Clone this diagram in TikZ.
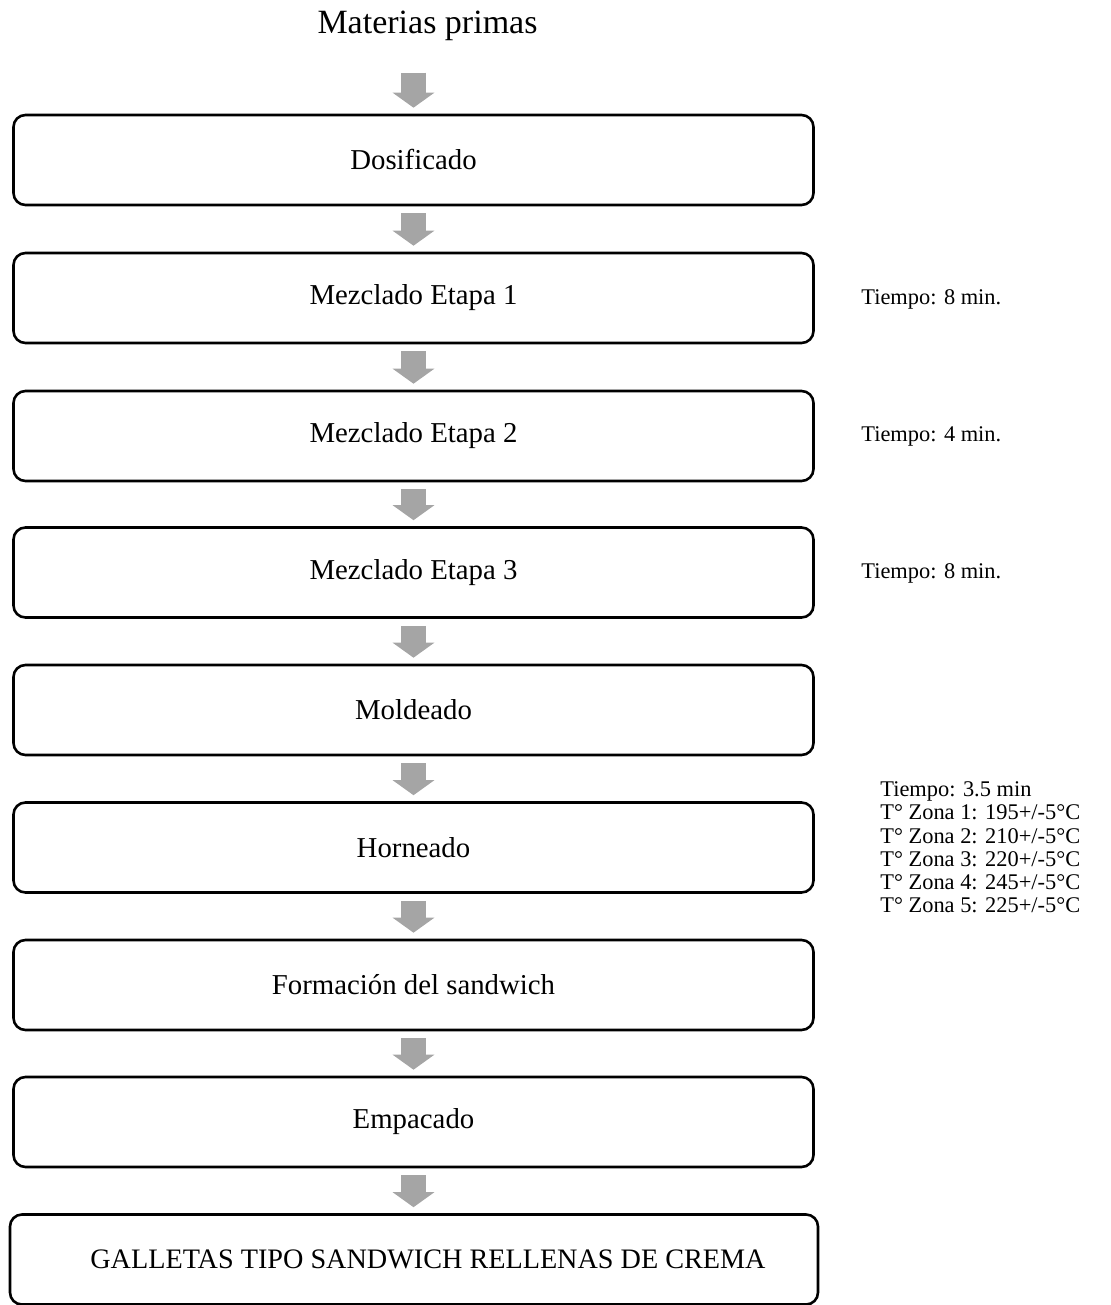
\documentclass[tikz,border=0pt]{standalone}
\usepackage{fontspec}
\setmainfont{Liberation Serif}
\usetikzlibrary{arrows.meta}
\definecolor{gris}{HTML}{A5A5A5}

\begin{document}
\begin{tikzpicture}[x=0.5pt, y=-0.5pt]
        \tikzstyle{caja} = [draw, rounded corners=6pt, line width=1.3pt, minimum width=400pt, minimum height=45pt, align=center, font=\fontsize{14.4}{17}\selectfont]
        \tikzstyle{nota} = [anchor=west, align=left, inner sep=0pt, font=\fontsize{11.2}{11.6}\selectfont]
        \tikzstyle{flecha} = [gris, line width=12.5pt, -{Triangle[width=20.5pt, length=7.5pt]}, shorten <=3.5pt, shorten >=3pt]

        \useasboundingbox (0,0) rectangle (1111,1305);

        \node (mat) [anchor=base, inner sep=0pt, font=\fontsize{17}{20}\selectfont] at (427.5,34) {Materias primas};

        \node (dos) [caja] at (413.5,160) {Dosificado};
        \node (mez1) [caja] at (413.5,298) {Mezclado Etapa 1};
        \node (mez2) [caja] at (413.5,436) {Mezclado Etapa 2};
        \node (mez3) [caja] at (413.5,572.5) {Mezclado Etapa 3};
        \node (mol) [caja] at (413.5,710) {Moldeado};
        \node (hor) [caja] at (413.5,847.5) {Horneado};
        \node (form) [caja] at (413.5,985) {Formación del sandwich};
        \node (emp) [caja] at (413.5,1122) {Empacado};
        \node (gal) [caja, minimum width=404pt, font=\fontsize{14.1}{17}\selectfont] at (414,1259.5) {\hspace*{14pt}GALLETAS TIPO SANDWICH RELLENAS DE CREMA};

        % tiempos y temperaturas
        \node (t1) [nota] at (861,299) {Tiempo: 8 min.};
        \node (t2) [nota] at (861,436) {Tiempo: 4 min.};
        \node (t3) [nota] at (861,573) {Tiempo: 8 min.};
        \node (thor) [nota] at (880,847.5) {Tiempo: 3.5 min\\
            T° Zona 1: 195+/-5°C\\
            T° Zona 2: 210+/-5°C\\
            T° Zona 3: 220+/-5°C\\
            T° Zona 4: 245+/-5°C\\
            T° Zona 5: 225+/-5°C};

        \draw[flecha, shorten <=15.5pt] (dos.north |- mat.south) -- (dos.north);
        \foreach \a/\b in {dos/mez1, mez1/mez2, mez2/mez3, mez3/mol, mol/hor, hor/form, form/emp}
            \draw[flecha] (\a.south) -- (\b.north);
        \draw[flecha] (emp.south) -- (emp.south |- gal.north);

    \end{tikzpicture}
\end{document}
